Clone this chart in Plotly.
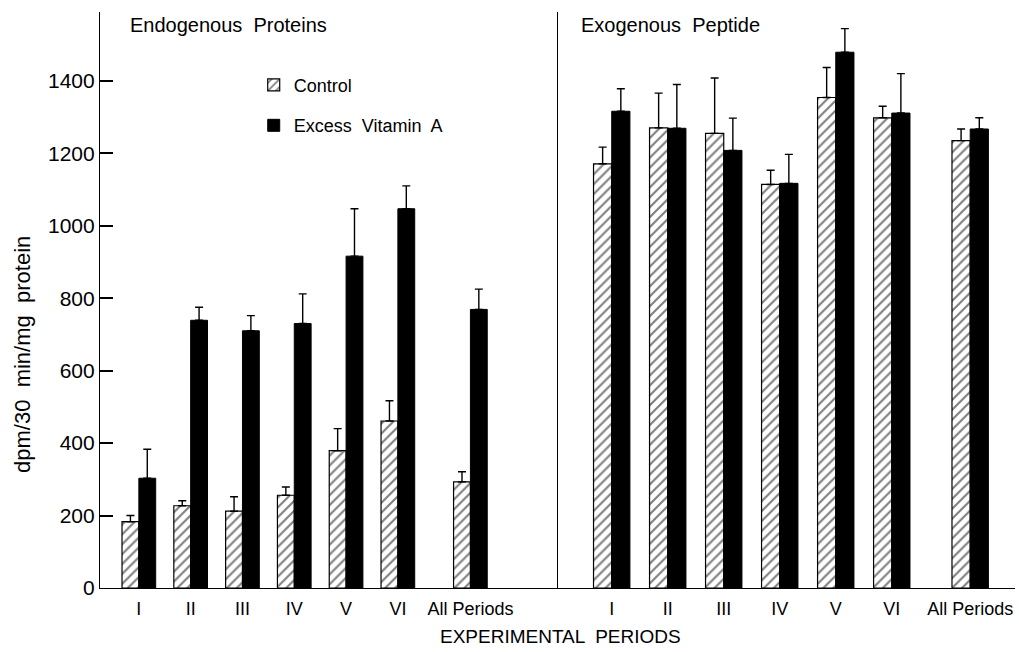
import plotly.graph_objects as go
from plotly.subplots import make_subplots

periods = ["I", "II", "III", "IV", "V", "VI", "All Periods"]

endo_control = [183, 227, 212, 256, 379, 461, 293]
endo_control_err = [17, 14, 40, 23, 61, 56, 28]
endo_excess = [303, 739, 710, 730, 916, 1047, 769]
endo_excess_err = [80, 36, 42, 82, 131, 63, 56]

exo_control = [1171, 1270, 1255, 1114, 1354, 1298, 1235]
exo_control_err = [46, 96, 153, 39, 83, 32, 32]
exo_excess = [1316, 1269, 1208, 1117, 1479, 1311, 1267]
exo_excess_err = [62, 121, 89, 80, 65, 109, 31]

y_ticks = [0, 200, 400, 600, 800, 1000, 1200, 1400]

# layout: extra spacing before the "All Periods" group
ALL_GAP = 0.4
x_pos = list(range(len(periods) - 1)) + [len(periods) - 1 + ALL_GAP]

FONT = "Liberation Sans"

fig = make_subplots(rows=1, cols=2, shared_yaxes=True, horizontal_spacing=0,
                    column_widths=[0.5005, 0.4995])


def control_bar(y, err, show):
    return go.Bar(
        x=x_pos, y=y, name="Control", showlegend=show, legendgroup="c",
        marker=dict(color="white", line=dict(color="black", width=1.2),
                    pattern=dict(shape="/", fgcolor="black", bgcolor="white",
                                 size=7, solidity=0.3)),
        error_y=dict(type="data", symmetric=False, array=err,
                     arrayminus=[0] * len(err), color="black",
                     thickness=1.4, width=4),
    )


def excess_bar(y, err, show):
    return go.Bar(
        x=x_pos, y=y, name="Excess  Vitamin  A", showlegend=show,
        legendgroup="e",
        marker=dict(color="black", line=dict(color="black", width=1)),
        error_y=dict(type="data", symmetric=False, array=err,
                     arrayminus=[0] * len(err), color="black",
                     thickness=1.4, width=4),
    )


fig.add_trace(control_bar(endo_control, endo_control_err, True), row=1, col=1)
fig.add_trace(excess_bar(endo_excess, endo_excess_err, True), row=1, col=1)
fig.add_trace(control_bar(exo_control, exo_control_err, False), row=1, col=2)
fig.add_trace(excess_bar(exo_excess, exo_excess_err, False), row=1, col=2)

fig.update_layout(
    width=1019, height=652,
    margin=dict(l=100, r=4, t=12, b=64),
    paper_bgcolor="white", plot_bgcolor="white",
    barmode="group", bargap=0.35, bargroupgap=0,
    font=dict(family=FONT, size=18, color="black"),
    legend=dict(x=0.168, y=0.905, xanchor="left", yanchor="top",
                bgcolor="rgba(0,0,0,0)", font=dict(size=18),
                tracegroupgap=14, traceorder="grouped"),
)

xcommon = dict(showline=True, linecolor="black", linewidth=1.2, ticks="",
               showgrid=False, zeroline=False, tickfont=dict(size=18),
               tickmode="array", tickvals=x_pos, ticktext=periods,
               tickangle=0, ticklabelstandoff=4, automargin=False,
               fixedrange=True)
fig.update_xaxes(**xcommon)
fig.update_xaxes(range=[-0.75, 8.09], row=1, col=1)
fig.update_xaxes(range=[-0.96, 7.2], row=1, col=2)

fig.update_yaxes(range=[0, 1590], showgrid=False, zeroline=False,
                 showline=True, linecolor="black", linewidth=1.2,
                 automargin=False, fixedrange=True)
fig.update_yaxes(tickvals=y_ticks, ticks="inside", ticklen=13, tickwidth=1.5,
                 tickcolor="black", tickfont=dict(size=21),
                 row=1, col=1)
fig.update_yaxes(ticks="", showticklabels=False, row=1, col=2)

fig.add_annotation(text="dpm/30  min/mg  protein", xref="paper", yref="paper",
                   x=-0.085, y=0.405, xanchor="center", yanchor="middle",
                   textangle=-90, showarrow=False, font=dict(size=22))
fig.add_annotation(text="Endogenous  Proteins", xref="paper", yref="paper",
                   x=0.031, y=0.977, xanchor="left", yanchor="middle",
                   showarrow=False, font=dict(size=20))
fig.add_annotation(text="Exogenous  Peptide", xref="paper", yref="paper",
                   x=0.523, y=0.978, xanchor="left", yanchor="middle",
                   showarrow=False, font=dict(size=20))
fig.add_annotation(text="EXPERIMENTAL  PERIODS", xref="paper", yref="paper",
                   x=0.503, y=-0.085, xanchor="center", yanchor="middle",
                   showarrow=False, font=dict(size=19))

fig.write_html("out.html", config={"displayModeBar": False},
               post_script="document.body.style.margin='0';"
                           "document.body.style.padding='0';")
